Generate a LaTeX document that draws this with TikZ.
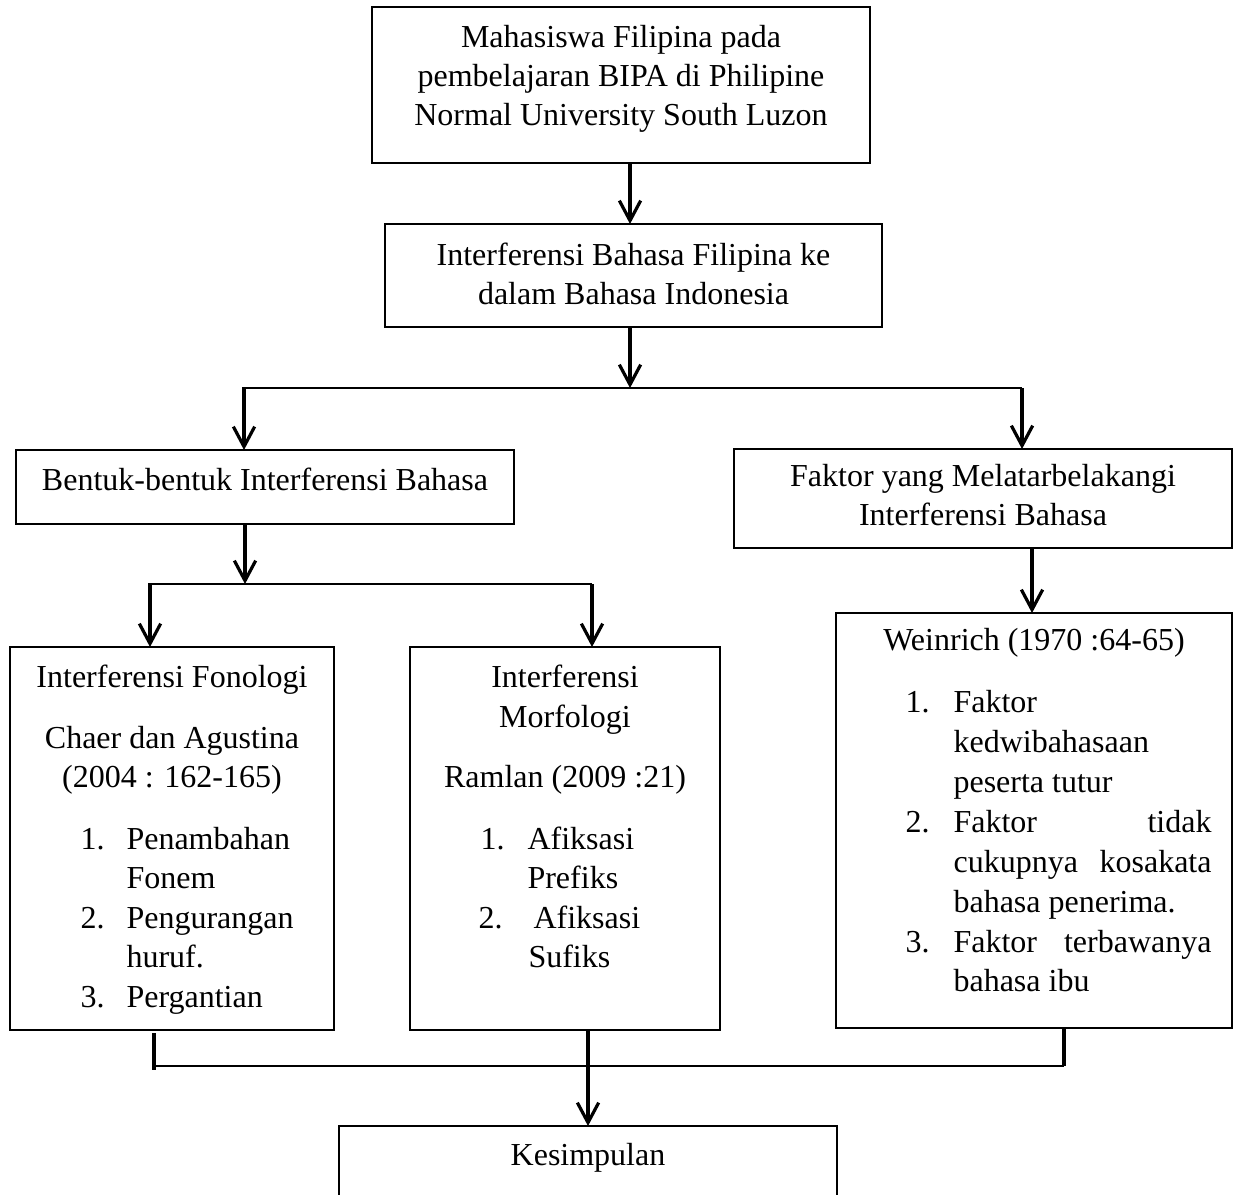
\documentclass[tikz,border=0pt]{standalone}
\usepackage{fontspec}
\setmainfont{Liberation Serif}
\usetikzlibrary{arrows.meta}
\begin{document}
\begin{tikzpicture}[x=0.375pt,y=-0.375pt,
 bx/.style n args={2}{draw, line width=0.6pt, minimum width={#1*0.375pt}, minimum height={#2*0.375pt}, inner sep=0pt, outer sep=0pt},
 tx/.style={font=\fontsize{12pt}{14pt}\selectfont, inner sep=0pt, anchor=base},
 tl/.style={tx, anchor=base west},
 arr/.style={line width=1.2pt, -{Straight Barb[length=7.5pt,width=8pt,line width=1.2pt]}},
 ln/.style={line width=0.6pt},
 tk/.style={line width=1.2pt}]
\clip (0,0) rectangle (1235,1194);
\fill[white] (0,0) rectangle (1235,1194);

% boxes
\node[bx={498}{156}] (b1) at (621,85) {};
\node[bx={497}{103}] (b2) at (633.5,275.5) {};
\node[bx={498}{74}] (b3) at (265,487) {};
\node[bx={498}{99}] (b4) at (983,498.5) {};
\node[bx={324}{383}] (b5) at (172,838.5) {};
\node[bx={310}{383}] (b6) at (565,838.5) {};
\node[bx={396}{415}] (b7) at (1034,820.5) {};
\node[bx={498}{100}] (bk) at (588,1176) {};

% texts box 1
\node[tx] (t11) at (621,47) {Mahasiswa Filipina pada};
\node[tx] (t12) at (621,86) {pembelajaran BIPA di Philipine};
\node[tx] (t13) at (621,125) {Normal University South Luzon};
% box 2
\node[tx] (t21) at (633.5,265) {Interferensi Bahasa Filipina ke};
\node[tx] (t22) at (633.5,304) {dalam Bahasa Indonesia};
% box 3
\node[tx] (t31) at (265,490) {Bentuk-bentuk Interferensi Bahasa};
% box 4
\node[tx] (t41) at (983,486) {Faktor yang Melatarbelakangi};
\node[tx] (t42) at (983,525) {Interferensi Bahasa};
% box 5
\node[tx] (t51) at (172,687) {Interferensi Fonologi};
\node[tx] (t52) at (172,748) {Chaer dan Agustina};
\node[tx] (t53) at (172,787) {(2004 : 162-165)};
\node[tl] (n51) at (80,849) {1.};
\node[tl] (l51) at (126,849) {Penambahan};
\node[tl] (l52) at (126,888) {Fonem};
\node[tl] (n52) at (80,928) {2.};
\node[tl] (l53) at (126,928) {Pengurangan};
\node[tl] (l54) at (126,967) {huruf.};
\node[tl] (n53) at (80,1007) {3.};
\node[tl] (l55) at (126,1007) {Pergantian};
% box 6
\node[tx] (t61) at (565,687) {Interferensi};
\node[tx] (t62) at (565,727) {Morfologi};
\node[tx] (t63) at (565,787) {Ramlan (2009 :21)};
\node[tl] (n61) at (480,849) {1.};
\node[tl] (l61) at (527,849) {Afiksasi};
\node[tl] (l62) at (527,888) {Prefiks};
\node[tl] (n62) at (478,928) {2.};
\node[tl] (l63) at (533,928) {Afiksasi};
\node[tl] (l64) at (528,967) {Sufiks};
% box 7
\node[tx] (t71) at (1034,650) {Weinrich (1970 :64-65)};
\node[tl] (n71) at (905,712) {1.};
\node[tl] (l71) at (953,712) {Faktor};
\node[tl] (l72) at (953,752) {kedwibahasaan};
\node[tl] (l73) at (953,792) {peserta tutur};
\node[tl] (n72) at (905,832) {2.};
\node[tl] (l74) at (953,832) {\makebox[96.75pt][s]{Faktor tidak}};
\node[tl] (l75) at (953,872) {\makebox[96.75pt][s]{cukupnya kosakata}};
\node[tl] (l76) at (953,912) {bahasa penerima.};
\node[tl] (n73) at (905,952) {3.};
\node[tl] (l77) at (953,952) {\makebox[96.75pt][s]{Faktor terbawanya}};
\node[tl] (l78) at (953,991) {bahasa ibu};
% Kesimpulan
\node[tx] (tk1) at (588,1165) {Kesimpulan};

% junction coordinates
\coordinate (j1) at (630,388);
\coordinate (j1L) at (244,388);
\coordinate (j1R) at (1022,388);
\coordinate (j2) at (245,584);
\coordinate (j2L) at (150,584);
\coordinate (j2R) at (592,584);
\coordinate (x47) at (1032,580);
\coordinate (tLa) at (154,1033);
\coordinate (tLb) at (154,1070);
\coordinate (tR) at (1064,1066);
\coordinate (tL) at (154,1066);
\coordinate (j3) at (588,1066);

% connectors
\draw[arr] (b1.south -| j1) -- (b2.north -| j1);
\draw[arr] (b2.south -| j1) -- (j1);
\draw[ln] (242,388) -- (j1R);
\draw[arr] (j1L) -- (b3.north -| j1L);
\draw[arr] (j1R) -- (b4.north -| j1R);
\draw[arr] (b3.south -| j2) -- (j2);
\draw[ln] (148,584) -- (j2R);
\draw[arr] (j2L) -- (b5.north -| j2L);
\draw[arr] (j2R) -- (b6.north -| j2R);
\draw[arr] (b4.south -| x47) -- (b7.north -| x47);
\draw[tk] (tLa) -- (tLb);
\draw[tk] (b7.south -| tR) -- (tR);
\draw[ln] (tL) -- (tR);
\draw[tk] (b6.south -| j3) -- (j3);
\draw[arr] (j3) -- (bk.north -| j3);
\end{tikzpicture}
\end{document}
